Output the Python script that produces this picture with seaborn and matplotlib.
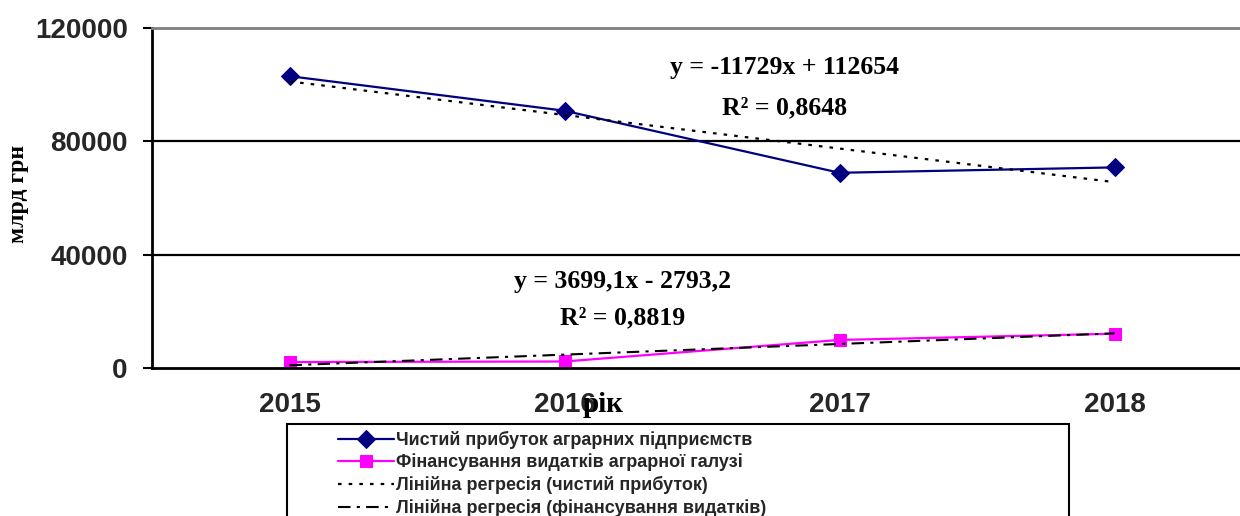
import matplotlib
matplotlib.use('Agg')
import matplotlib.pyplot as plt
from matplotlib.patches import Rectangle
import seaborn as sns
import pandas as pd
import numpy as np

# data
years = ['2015', '2016', '2017', '2018']
net_profit = [103000, 90800, 68900, 70800]
funding = [2100, 2300, 9900, 12100]
series_labels = ['Чистий прибуток аграрних підприємств',
                 'Фінансування видатків аграрної галузі',
                 'Лінійна регресія (чистий прибуток)',
                 'Лінійна регресія (фінансування видатків)']
eq_profit = ['y = -11729x + 112654', 'R² = 0,8648']
eq_funding = ['y = 3699,1x - 2793,2', 'R² = 0,8819']
y_ticks = [0, 40000, 80000, 120000]

sns.set_style('white')
plt.rcParams['font.family'] = ['Liberation Sans', 'DejaVu Sans']

pos = np.arange(len(years))
df = pd.DataFrame({'pos': pos, 'profit': net_profit, 'funding': funding})

# linear trends (x = 1..n like in Excel)
xn = pos + 1
k1, b1 = np.polyfit(xn, df['profit'], 1)
k2, b2 = np.polyfit(xn, df['funding'], 1)
df['trend_profit'] = k1 * xn + b1
df['trend_funding'] = k2 * xn + b2

fig = plt.figure(figsize=(12.4, 5.16), dpi=100)
ax = fig.add_axes([152 / 1240, 1 - 368 / 516, 1100 / 1240, 340 / 516])

sns.lineplot(data=df, x='pos', y='profit', ax=ax, color='#000080', lw=1.6,
             marker='D', markersize=9, markeredgecolor='#000080', label=series_labels[0])
sns.lineplot(data=df, x='pos', y='funding', ax=ax, color='#FF00FF', lw=1.6,
             marker='s', markersize=9, markeredgecolor='#FF00FF', label=series_labels[1])
sns.lineplot(data=df, x='pos', y='trend_profit', ax=ax, color='black', lw=1.6,
             linestyle=(0, (1.6, 3.2)), label=series_labels[2])
sns.lineplot(data=df, x='pos', y='trend_funding', ax=ax, color='black', lw=1.5,
             linestyle=(0, (6, 3, 1.5, 3)), label=series_labels[3])

ax.set_xlim(-0.5, 3.5)
ax.set_ylim(0, 120000)
ax.set_yticks(y_ticks)
ax.set_yticklabels([str(v) for v in y_ticks], fontsize=20, fontweight='bold')
ax.set_xticks(pos)
ax.set_xticklabels(years, fontsize=20, fontweight='bold')
ax.set_xticks(np.arange(-0.5, 3.5, 1), minor=True)
ax.tick_params(axis='x', which='major', length=0, pad=17)
ax.tick_params(axis='x', which='minor', length=6, width=1.5, color='black')
ax.tick_params(axis='y', length=6.5, width=1.5, color='black', pad=11, left=True)
ax.set_xlabel('')
ax.set_ylabel('')

for v in y_ticks[1:-1]:
    ax.axhline(v, color='black', lw=1.6, zorder=0)
ax.spines['top'].set_color('#808080')
ax.spines['top'].set_linewidth(2)
ax.spines['left'].set_linewidth(2)
ax.spines['left'].set_color('black')
ax.spines['bottom'].set_linewidth(2)
ax.spines['bottom'].set_color('black')
ax.spines['right'].set_visible(False)

serif = dict(family=['Liberation Serif', 'DejaVu Serif'], fontweight='bold', color='black')
ax.text(1.8, 106000, eq_profit[0], ha='center', va='center', fontsize=18.5, **serif)
ax.text(1.8, 92000, eq_profit[1], ha='center', va='center', fontsize=18.5, **serif)
ax.text(1.21, 30500, eq_funding[0], ha='center', va='center', fontsize=18.5, **serif)
ax.text(1.21, 17800, eq_funding[1], ha='center', va='center', fontsize=18.5, **serif)

fig.text(603 / 1240, 1 - 404 / 516, 'рік', ha='center', va='center', fontsize=21, **serif)
fig.text(19 / 1240, 1 - 194 / 516, 'млрд грн', ha='center', va='center', rotation=90,
         fontsize=17, **serif)

handles, labels = ax.get_legend_handles_labels()
ax.get_legend().remove()
fig.legend(handles, labels, loc='upper left', bbox_to_anchor=(338 / 1240, 1 - 431 / 516),
           frameon=False, borderpad=0, borderaxespad=0, handlelength=3.1,
           handletextpad=0.12, labelspacing=0.26, prop=dict(size=13, weight='bold'))
fig.add_artist(Rectangle((287 / 1240, -0.1), (1069 - 287) / 1240, 0.1 + 1 - 424 / 516,
                         transform=fig.transFigure, fill=False, lw=1.5, edgecolor='black'))

fig.savefig('out.png', dpi=100)
